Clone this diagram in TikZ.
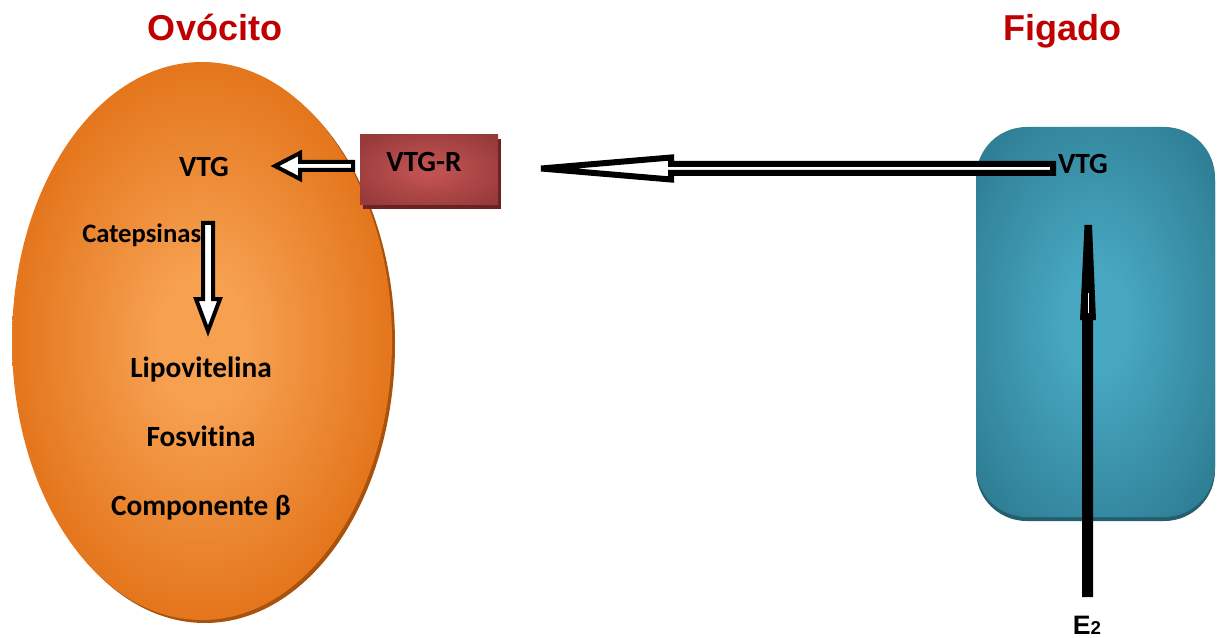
\documentclass[tikz,border=0pt]{standalone}
\usepackage{fontspec}
\setmainfont[Ligatures=NoCommon]{Carlito}
\newfontfamily\arialf{Liberation Sans}
\usetikzlibrary{calc}
\definecolor{titlered}{HTML}{C00000}
\definecolor{oLight}{HTML}{F6A050}
\definecolor{oDark}{HTML}{DF6B0F}
\definecolor{oShadow}{HTML}{A8520C}
\definecolor{rLight}{HTML}{C25252}
\definecolor{rDark}{HTML}{963A3A}
\definecolor{rShadow}{HTML}{6A2222}
\definecolor{tLight}{HTML}{48A8C2}
\definecolor{tDark}{HTML}{2E7E94}
\definecolor{tShadow}{HTML}{235F6F}
\pgfdeclareradialshading{eggshade}{\pgfpoint{0bp}{0bp}}{color(0bp)=(oLight); color(6bp)=(oLight); color(30bp)=(oDark); color(60bp)=(oDark)}
\pgfdeclareradialshading{boxshade}{\pgfpoint{0bp}{0bp}}{color(0bp)=(rLight); color(4bp)=(rLight); color(32bp)=(rDark); color(75bp)=(rDark)}
\pgfdeclareradialshading{livershade}{\pgfpoint{0bp}{0bp}}{color(0bp)=(tLight); color(6bp)=(tLight); color(32bp)=(tDark); color(75bp)=(tDark)}
\tikzset{
  title/.style={font=\arialf\bfseries\fontsize{27}{30}\selectfont, text=titlered, anchor=base, inner sep=0pt},
  lbl/.style={font=\bfseries\fontsize{22}{25}\selectfont, anchor=base, inner sep=0pt},
  smalllbl/.style={font=\bfseries\fontsize{20}{22}\selectfont, anchor=base west, inner sep=0pt},
  blockarrow/.style={draw=black, fill=white, line width=3pt, line join=miter},
  bigarrow/.style={draw=black, fill=white, line width=4.5pt, line join=miter},
}
\begin{document}
\begin{tikzpicture}[x=0.75pt, y=-0.75pt]
\useasboundingbox (0,0) rectangle (1218,638);
% ovocyte
\fill[oShadow] (205,344) ellipse [x radius=190, y radius=279];
\shade[shading=eggshade] (202,341) ellipse [x radius=190, y radius=279];
\coordinate (ovo) at (202,341);
% liver
\fill[tShadow, rounded corners=38pt] (976,131) rectangle (1215,521);
\shade[shading=livershade, rounded corners=38pt] (976,127) rectangle (1215,517);
\coordinate (liver) at (1095,322);
% VTG-R box
\fill[rShadow] (363,139) rectangle (501,209);
\shade[shading=boxshade] (360,135) rectangle (498,205);
% titles
\node[title] (tovo) at (215,41) {Ovócito};
\node[title] (tliv) at (1062,41) {Figado};
% labels
\node[lbl] (vtgovo) at (204,177) {VTG};
\node[smalllbl] (catep) at (82,243) {Catepsinas};
\node[lbl] (lipo) at (201,377) {Lipovitelina};
\node[lbl] (fosv) at (201,446) {Fosvitina};
\node[lbl] (compb) at (201,515) {Componente β};
\node[lbl] (vtgr) at (424,172) {VTG-R};
\node[lbl] (vtgliv) at (1083,174) {VTG};
\node[font=\arialf\bfseries\fontsize{20}{22}\selectfont, anchor=base, inner sep=0pt] (e2) at (1087,634) {E\raisebox{0pt}{\fontsize{14}{16}\selectfont 2}};
% arrow VTG-R -> VTG (ovocyte)
\coordinate (a1tail) at (353,166);
\coordinate (a1tip) at (275,166);
\draw[blockarrow] (a1tip) -- ($(a1tip)+(25,-13)$) -- ($(a1tip)+(25,-4)$) -- ($(a1tail)+(0,-4)$) -- ($(a1tail)+(0,4)$) -- ($(a1tip)+(25,4)$) -- ($(a1tip)+(25,13)$) -- cycle;
% arrow liver VTG -> VTG-R
\coordinate (a2tail) at (1053,168.5);
\coordinate (a2tip) at (541,168.5);
\draw[bigarrow] (a2tip) -- ($(a2tip)+(130,-11)$) -- ($(a2tip)+(130,-4.5)$) -- ($(a2tail)+(0,-4.5)$) -- ($(a2tail)+(0,4.5)$) -- ($(a2tip)+(130,4.5)$) -- ($(a2tip)+(130,11)$) -- cycle;
% arrow catepsinas down
\coordinate (a3tail) at (208,223);
\coordinate (a3tip) at (208,331);
\draw[blockarrow] (a3tip) -- ($(a3tip)+(-12,-32)$) -- ($(a3tip)+(-5,-32)$) -- ($(a3tail)+(-5,0)$) -- ($(a3tail)+(5,0)$) -- ($(a3tip)+(5,-32)$) -- ($(a3tip)+(12,-32)$) -- cycle;
% arrow E2 up
\coordinate (a4tail) at (1087.5,597);
\coordinate (a4tip) at (1088,225);
\fill[black] ($(a4tail)+(-5.5,0)$) -- ($(a4tail)+(5.5,0)$) -- (1093,320) -- (1096,320) -- (1092,225) -- (1084.5,225) -- (1080,320) -- (1082,320) -- cycle;
\draw[white, line width=1.2pt] (1088.3,293) -- (1088.3,313);
\end{tikzpicture}
\end{document}
